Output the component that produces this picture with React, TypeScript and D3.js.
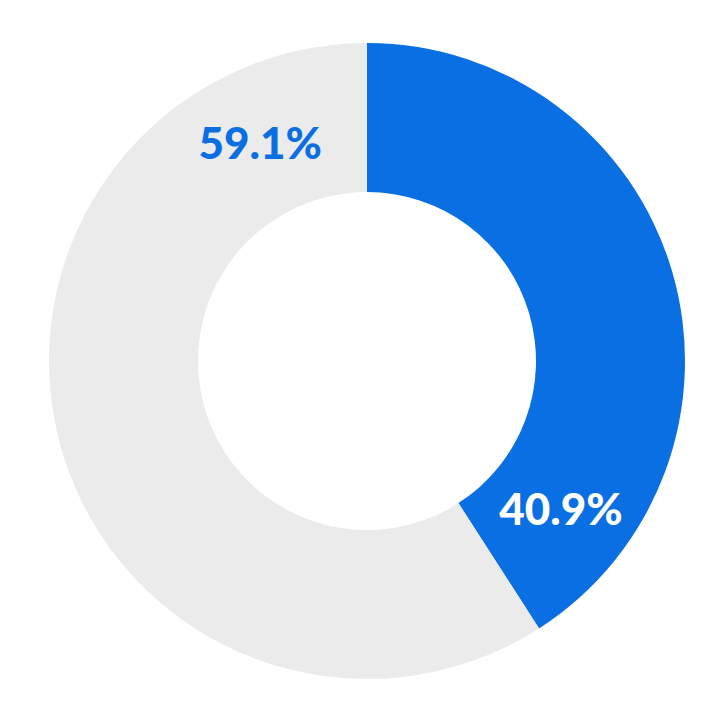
import React, { useEffect, useRef } from 'react';
import * as d3 from 'd3';

interface Slice {
  label: string;
  value: number;
  color: string;
  textColor: string;
  labelOffsetDeg: number;
}

// values in percent
const categories = ['A', 'B'];
const values = [40.9, 59.1];
const sliceColors = ['#0a6fe3', '#ebebeb'];
const labelColors = ['#ffffff', '#0a6fe3'];
// label sits this many degrees back from the slice end
const labelOffsets = [20, 26];

const App: React.FC = () => {
  const chartRef = useRef<SVGSVGElement | null>(null);

  useEffect(() => {
    const data: Slice[] = categories.map((c, i) => ({
      label: c,
      value: values[i],
      color: sliceColors[i],
      textColor: labelColors[i],
      labelOffsetDeg: labelOffsets[i],
    }));

    const width = 720;
    const height = 720;
    const cx = 367;
    const cy = 361;
    const outer = 318;
    const inner = 169;

    d3.select(chartRef.current).selectAll('*').remove();

    const svg = d3
      .select(chartRef.current)
      .attr('width', width)
      .attr('height', height)
      .append('g')
      .attr('transform', `translate(${cx},${cy})`);

    const pie = d3
      .pie<Slice>()
      .value((d) => d.value)
      .sort(null);

    const arc = d3
      .arc<d3.PieArcDatum<Slice>>()
      .innerRadius(inner)
      .outerRadius(outer);

    const arcs = pie(data);

    svg
      .selectAll('path')
      .data(arcs)
      .enter()
      .append('path')
      .attr('d', arc)
      .attr('fill', (d) => d.data.color);

    // labels at the middle of the ring, near the end of each slice
    const mid = (inner + outer) / 2;
    svg
      .selectAll('text')
      .data(arcs)
      .enter()
      .append('text')
      .attr('x', (d) => {
        const a = d.endAngle - (d.data.labelOffsetDeg * Math.PI) / 180;
        return mid * Math.sin(a);
      })
      .attr('y', (d) => {
        const a = d.endAngle - (d.data.labelOffsetDeg * Math.PI) / 180;
        return -mid * Math.cos(a);
      })
      .attr('text-anchor', 'middle')
      .attr('dominant-baseline', 'central')
      .attr('fill', (d) => d.data.textColor)
      .style('font-family', 'Lato, sans-serif')
      .style('font-weight', 900)
      .style('font-size', '44px')
      .text((d) => `${d.data.value.toFixed(1)}%`);
  }, []);

  return (
    <svg
      ref={chartRef}
      style={{ position: 'absolute', left: 0, top: 0, background: '#fff' }}
    ></svg>
  );
};

export default App;
